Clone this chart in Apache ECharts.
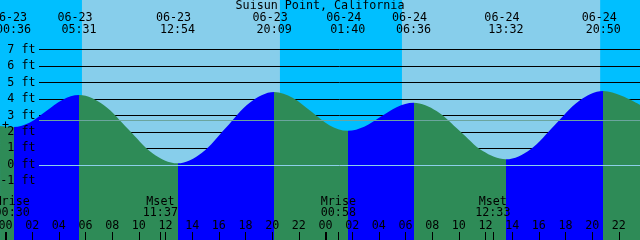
<!DOCTYPE html>
<html><head><meta charset="utf-8">
<script src="https://cdn.jsdelivr.net/npm/echarts@6/dist/echarts.min.js"></script>
<style>html,body{margin:0;padding:0;background:#87CEEB}#c{width:640px;height:240px}</style>
</head><body><div id="c"></div>
<script>
// ---------- data ----------
const chartTitle = 'Suisun Point, California';
const tideDates   = ['06-23','06-23','06-23','06-23','06-24','06-24','06-24','06-24'];
const tideTimes   = ['00:36','05:31','12:54','20:09','01:40','06:36','13:32','20:50'];
const tideKinds   = ['low','high','low','high','low','high','low','high'];
const tideHeights = [2.30, 4.24, 0.10, 4.42, 2.07, 3.77, 0.34, 4.48];
// tide curve: hours after 06-23 00:00, height in ft
const curveHours = [-0.41, 0.60, 1.83, 3.06, 4.29, 5.52, 7.36, 9.21, 11.05, 12.90, 14.71, 16.53, 18.34, 20.15,
                    21.53, 22.91, 24.29, 25.67, 26.90, 28.13, 29.37, 30.60, 32.33, 34.07, 35.80, 37.53,
                    39.36, 41.18, 43.01, 44.83, 46.20, 47.59];
const curveFeet  = [2.36, 2.30, 2.58, 3.27, 3.96, 4.24, 3.64, 2.17, 0.70, 0.10, 0.73, 2.26, 3.79, 4.42,
                    4.08, 3.25, 2.41, 2.07, 2.32, 2.92, 3.52, 3.77, 3.27, 2.06, 0.84, 0.34,
                    0.94, 2.41, 3.88, 4.48, 4.20, 3.65];
const sunDates = ['06-23','06-23','06-24','06-24'];
const sunTimes = ['05:44','20:35','05:44','20:36'];
const sunKinds = ['rise','set','rise','set'];
const moonLabels = ['Mrise','Mset','Mrise','Mset'];
const moonDates  = ['06-23','06-23','06-24','06-24'];
const moonTimes  = ['00:30','11:37','00:58','12:33'];
const moonTicked = [false, true, true, true];
const hourTicks = [0,2,4,6,8,10,12,14,16,18,20,22,24,26,28,30,32,34,36,38,40,42,44,46];
const midnightTicks = [0, 24];
const ftLevels = [-1,0,1,2,3,4,5,6,7];
const datumFt = 0;
const meanFt = 2.68;
const viewStart = -0.4125, viewEnd = 47.5875;   // 06-22 23:35 .. 06-24 23:35
const yMin = -4.55, yMax = 10;

// ---------- helpers ----------
const FONT = "'DejaVu Sans Mono', monospace";
const FS = 11.7;
function toHours(date, time) {
  const day = parseInt(date.split('-')[1], 10) - 23;
  const [h, m] = time.split(':').map(Number);
  return day * 24 + h + m / 60;
}
const tideHours = tideDates.map((d, i) => toHours(d, tideTimes[i]));
const sunHours = sunDates.map((d, i) => toHours(d, sunTimes[i]));
const moonHours = moonDates.map((d, i) => toHours(d, moonTimes[i]));
const moonTickHours = moonHours.filter((h, i) => moonTicked[i]);
function findIdx(arr, v) { let b = 0, bd = 1e9; arr.forEach((a, i) => { const d = Math.abs(a - v); if (d < bd) { bd = d; b = i; } }); return b; }
const pad2 = n => (n < 10 ? '0' : '') + n;

// colour pieces: rising (after a low) blue, falling (after a high) green
const FLOOD = '#0000FF', EBB = '#2E8B57';
const pieces = [];
let prev = -100;
tideHours.forEach((t, i) => {
  pieces.push({ gte: prev, lt: t, color: tideKinds[i] === 'low' ? EBB : FLOOD });
  prev = t;
});
pieces.push({ gte: prev, lt: 1000, color: tideKinds[tideKinds.length - 1] === 'high' ? EBB : FLOOD });

// night bands
const nights = [];
let nStart = viewStart;
sunKinds.forEach((k, i) => {
  if (k === 'rise') { nights.push([{ xAxis: nStart }, { xAxis: sunHours[i] }]); }
  else { nStart = sunHours[i]; }
});
if (sunKinds[sunKinds.length - 1] === 'set') nights.push([{ xAxis: nStart }, { xAxis: viewEnd }]);

const lineStartX = viewStart + 39 / 640 * (viewEnd - viewStart);

const chart = echarts.init(document.getElementById('c'), null, { renderer: 'canvas' });
const txt = { color: '#000', fontFamily: FONT, fontSize: FS };
const noLine = { show: false, onZero: false };

chart.setOption({
  animation: false,
  backgroundColor: '#87CEEB',
  title: { text: chartTitle, left: 'center', top: 0, padding: 0,
    textStyle: Object.assign({ fontWeight: 'normal', lineHeight: 12 }, txt) },
  grid: { left: 0, right: 0, top: 0, bottom: 0, show: true, backgroundColor: '#87CEEB', borderWidth: 0,
    containLabel: false, outerBoundsMode: 'none' },
  xAxis: [
    { type: 'value', min: viewStart, max: viewEnd, position: 'bottom', z: 6,
      axisLine: noLine, splitLine: { show: false },
      axisTick: { show: true, inside: true, length: 8, lineStyle: { color: '#000', width: 1 }, customValues: hourTicks },
      axisLabel: Object.assign({ show: true, inside: true, margin: 8.5, lineHeight: 12, verticalAlign: 'bottom',
        hideOverlap: false, customValues: hourTicks, formatter: v => pad2(Math.round(v) % 24) }, txt) },
    { type: 'value', min: viewStart, max: viewEnd, position: 'bottom', z: 6,
      axisLine: noLine, splitLine: { show: false },
      axisTick: { show: true, inside: true, length: 8, lineStyle: { color: '#000', width: 2 }, customValues: midnightTicks },
      axisLabel: { show: false } },
    { type: 'value', min: viewStart, max: viewEnd, position: 'bottom', z: 6,
      axisLine: noLine, splitLine: { show: false },
      axisTick: { show: true, inside: true, length: 8, lineStyle: { color: '#000', width: 1 }, customValues: moonTickHours },
      axisLabel: Object.assign({ show: true, inside: true, margin: 21.5, lineHeight: 11, verticalAlign: 'bottom',
        hideOverlap: false, customValues: moonHours,
        formatter: v => { const i = findIdx(moonHours, v); return moonLabels[i] + '\n' + moonTimes[i]; } }, txt) },
    { type: 'value', min: viewStart, max: viewEnd, position: 'top', z: 6,
      axisLine: noLine, splitLine: { show: false }, axisTick: { show: false },
      axisLabel: Object.assign({ show: true, inside: true, margin: 11.5, lineHeight: 12, verticalAlign: 'top',
        hideOverlap: false, customValues: tideHours,
        formatter: v => { const i = findIdx(tideHours, v); return '{d|' + tideDates[i] + '}\n{t|' + tideTimes[i] + '}'; },
        rich: { d: Object.assign({ padding: [0, 8, 0, 0], lineHeight: 12 }, txt), t: Object.assign({ lineHeight: 12 }, txt) } }, txt) }
  ],
  yAxis: [
    { type: 'value', min: yMin, max: yMax, position: 'left', z: 6,
      axisLine: noLine, splitLine: { show: false }, axisTick: { show: false },
      axisLabel: Object.assign({ show: true, inside: true, align: 'right', margin: 35.5, customValues: ftLevels,
        formatter: v => v + ' ft' }, txt) }
  ],
  visualMap: { type: 'piecewise', show: false, dimension: 0, seriesIndex: 2, pieces: pieces },
  graphic: [{ type: 'text', left: 2, top: 120, z: 10, style: { text: '+', fill: '#000', font: FS + 'px ' + FONT } }],
  series: [
    { type: 'line', name: 'sky', data: [], z: 1, silent: true,
      markArea: { silent: true, z: 1, itemStyle: { color: '#00BFFF', opacity: 1 }, data: nights } },
    { type: 'line', name: 'ftlines', data: [], z: 2, silent: true,
      markLine: { silent: true, z: 2, symbol: 'none', label: { show: false },
        lineStyle: { color: '#000', width: 1, type: 'solid' },
        data: ftLevels.map(v => [{ coord: [lineStartX, v] }, { coord: [viewEnd, v] }]) } },
    { type: 'line', name: 'tide', z: 3, silent: true, showSymbol: false, smooth: 0.35,
      data: curveHours.map((t, i) => [t, curveFeet[i]]),
      lineStyle: { width: 0 }, areaStyle: { opacity: 1, origin: 'start' } },
    { type: 'line', name: 'ref', data: [], z: 4, silent: true,
      markLine: { silent: true, z: 4, symbol: 'none', label: { show: false },
        data: [
          [{ coord: [lineStartX, datumFt], lineStyle: { color: '#8CCFEA', width: 1, type: 'solid' } }, { coord: [viewEnd, datumFt] }],
          [{ coord: [lineStartX, meanFt], lineStyle: { color: '#6BA59E', width: 1, type: 'solid' } }, { coord: [viewEnd, meanFt] }]
        ] } }
  ]
});
</script></body></html>
